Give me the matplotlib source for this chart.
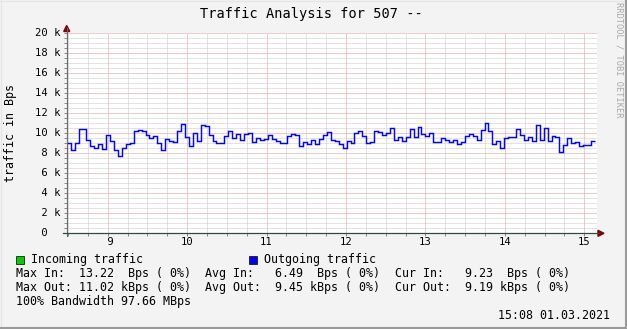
import numpy as np
import matplotlib
matplotlib.use("Agg")
import matplotlib.pyplot as plt
from matplotlib.patches import Rectangle, Polygon
from matplotlib.lines import Line2D

# ---------------- data ----------------
title = "Traffic Analysis for 507 --"
y_label = "traffic in Bps"
watermark = "RRDTOOL / TOBI OETIKER"
t_start = "08:29"
t_end = "15:08"
view_end = 15.156           # right edge of the time axis (hours)

out_kbps = [
    9.0, 8.33, 9.0, 10.4, 10.4, 9.33, 8.7, 8.5, 8.9, 8.4,
    9.8, 9.2, 8.33, 7.73, 8.5, 8.93, 9.0, 10.2, 10.3, 10.2,
    9.8, 9.5, 9.7, 9.0, 8.3, 9.4, 9.2, 9.1, 10.2, 10.9,
    9.6, 8.7, 10.0, 9.2, 10.8, 10.7, 9.8, 9.2, 9.0, 9.0,
    9.7, 10.2, 9.5, 9.9, 9.3, 9.9, 10.0, 9.1, 9.5, 9.3,
    9.4, 9.8, 9.4, 9.2, 9.0, 9.0, 9.7, 9.9, 9.8, 8.7,
    9.1, 8.9, 9.3, 8.9, 9.4, 9.8, 10.1, 9.3, 9.2, 8.9,
    8.5, 9.2, 9.0, 10.0, 10.2, 9.7, 9.0, 9.1, 10.2, 10.1,
    9.8, 10.0, 10.5, 9.3, 9.6, 9.2, 9.6, 10.4, 9.6, 10.6,
    9.9, 9.7, 10.0, 9.15, 9.1, 9.55, 9.3, 9.1, 9.3, 8.9,
    9.1, 9.7, 9.9, 9.7, 9.3, 10.3, 11.0, 10.2, 8.9, 9.2,
    8.5, 9.5, 9.6, 9.6, 10.4, 9.8, 9.3, 9.6, 9.2, 10.8,
    9.3, 10.5, 9.2, 9.7, 9.6, 8.1, 8.8, 9.5, 9.0, 9.1,
    8.7, 8.8, 8.8, 9.2,
]

y_major_k = [0, 2, 4, 6, 8, 10, 12, 14, 16, 18, 20]
y_tick_labels = [" 0", " 2 k", " 4 k", " 6 k", " 8 k", "10 k", "12 k",
                 "14 k", "16 k", "18 k", "20 k"]
y_minor_step_k = 0.5
x_major_h = [9, 10, 11, 12, 13, 14, 15]
x_tick_labels = [" 9", "10", "11", "12", "13", "14", "15"]
x_minor_step_h = 0.25

legend_names = ["Incoming traffic", "Outgoing traffic"]
legend_colors = ["#00cc00", "#0000ff"]
in_stats = [13.22, 6.49, 9.23]      # Bps
out_stats = [11.02, 9.45, 9.19]     # kBps
bandwidth = "97.66 MBps"
timestamp = "15:08 01.03.2021"

# ---------------- layout ----------------
W, H, DPI = 627, 329, 100
MONO = "DejaVu Sans Mono"
BG = "#f3f3f3"


def hm(s):
    h, m = s.split(":")
    return int(h) + int(m) / 60.0


def fx(x):
    return x / W


def fy(y):
    return 1 - y / H


fig = plt.figure(figsize=(W / DPI, H / DPI), dpi=DPI, facecolor=BG)

L, R, T, B = 66.7, 596.7, 33.3, 233.3
ax = fig.add_axes([fx(L), fy(B), (R - L) / W, (B - T) / H])
ax.set_facecolor("white")
t0, t1 = hm(t_start), hm(t_end)
ax.set_xlim(t0, view_end)
ax.set_ylim(0, y_major_k[-1] * 1000)
for sp in ax.spines.values():
    sp.set_visible(False)

ax.set_yticks([v * 1000 for v in y_major_k])
ax.set_yticks(np.arange(0, y_major_k[-1] + 1e-9, y_minor_step_k) * 1000, minor=True)
ax.set_xticks(x_major_h)
ax.set_xticks(np.arange(8.5, view_end, x_minor_step_h), minor=True)
ax.set_xticklabels([])
ax.set_yticklabels([])
ax.tick_params(which="both", direction="out", length=2.0, width=0.72,
               color="#8a8a8a", left=True, bottom=True, right=False, top=False)

dot = (0, (1, 1))
ax.grid(True, which="minor", color="#c8c8c8", linestyle=dot, linewidth=0.72)
ax.grid(True, which="major", color="#d89898", linestyle=dot, linewidth=0.72)
ax.set_axisbelow(True)

# outgoing traffic line
edges = np.linspace(t0, t1, len(out_kbps) + 1)
ax.stairs(np.array(out_kbps) * 1000, edges, color="#0000ff", lw=1.05,
          baseline=None, zorder=3)

# axes lines and arrows (figure pixel coordinates)
fig.add_artist(Line2D([fx(L), fx(L)], [fy(B + 3), fy(28)], color="#6a6a6a", lw=0.8))
fig.add_artist(Line2D([fx(L - 3.5), fx(599)], [fy(B), fy(B)], color="#2c4d43", lw=0.9))
fig.add_artist(Polygon([(fx(L - 3), fy(31.5)), (fx(L + 3), fy(31.5)), (fx(L), fy(25.5))],
                       closed=True, color="#7f0000", transform=fig.transFigure))
fig.add_artist(Polygon([(fx(598), fy(B - 3)), (fx(598), fy(B + 3)), (fx(604), fy(B))],
                       closed=True, color="#7f0000", transform=fig.transFigure))

# tick labels
for v, lab in zip(y_major_k, y_tick_labels):
    ax.annotate(lab, xy=(0, v * 1000), xycoords=("axes fraction", "data"),
                xytext=(-31.5, 0), textcoords="offset pixels",
                ha="left", va="center", family=MONO, fontsize=7.6)
for h, lab in zip(x_major_h, x_tick_labels):
    ax.annotate(lab, xy=(h, 0), xycoords=("data", "axes fraction"),
                xytext=(0, -9), textcoords="offset pixels",
                ha="center", va="center", family=MONO, fontsize=7.6)

# titles
fig.text(fx(199.5), fy(14), title, ha="left", va="center", family=MONO, fontsize=9.8)
fig.text(fx(11), fy(132.5), y_label, ha="center", va="center", rotation=90,
         family=MONO, fontsize=8.4)
fig.text(fx(618.5), fy(60), watermark, ha="center", va="center", rotation=-90,
         family=MONO, fontsize=6.2, color="#a8a8a8")

# legend
box_x = [16, 249]
txt_x = [31, 263.5]
for bx, tx, name, col in zip(box_x, txt_x, legend_names, legend_colors):
    fig.add_artist(Rectangle((fx(bx), fy(263.5)), 7.5 / W, 7.5 / H, facecolor=col,
                             edgecolor="#000000", lw=0.5, transform=fig.transFigure))
    fig.text(fx(tx), fy(259.5), name, ha="left", va="center", family=MONO, fontsize=8.4)

col_x = [16, 205.2, 394.8]
in_fmt = ["Max In:  {:5.2f}  Bps ( 0%)", "Avg In:  {:5.2f}  Bps ( 0%)",
          "Cur In:  {:5.2f}  Bps ( 0%)"]
out_fmt = ["Max Out: {:5.2f} kBps ( 0%)", "Avg Out: {:5.2f} kBps ( 0%)",
           "Cur Out: {:5.2f} kBps ( 0%)"]
for cx, f, v in zip(col_x, in_fmt, in_stats):
    fig.text(fx(cx), fy(273.7), f.format(v), ha="left", va="center",
             family=MONO, fontsize=8.4)
for cx, f, v in zip(col_x, out_fmt, out_stats):
    fig.text(fx(cx), fy(287.7), f.format(v), ha="left", va="center",
             family=MONO, fontsize=8.4)
fig.text(fx(16), fy(301.7), "100% Bandwidth " + bandwidth, ha="left", va="center",
         family=MONO, fontsize=8.4)
fig.text(fx(610), fy(315.7), timestamp, ha="right", va="center",
         family=MONO, fontsize=8.4)

# 3D frame
fig.add_artist(Line2D([fx(0.5), fx(0.5)], [0, 1], color="#e6e6e6", lw=1))
fig.add_artist(Line2D([0, 1], [fy(0.5), fy(0.5)], color="#e6e6e6", lw=1))
fig.add_artist(Line2D([fx(626), fx(626)], [0, 1], color="#9a9a9a", lw=1.5))
fig.add_artist(Line2D([0, 1], [fy(328), fy(328)], color="#9a9a9a", lw=1.5))

fig.savefig("out.png", dpi=DPI, facecolor=BG)
